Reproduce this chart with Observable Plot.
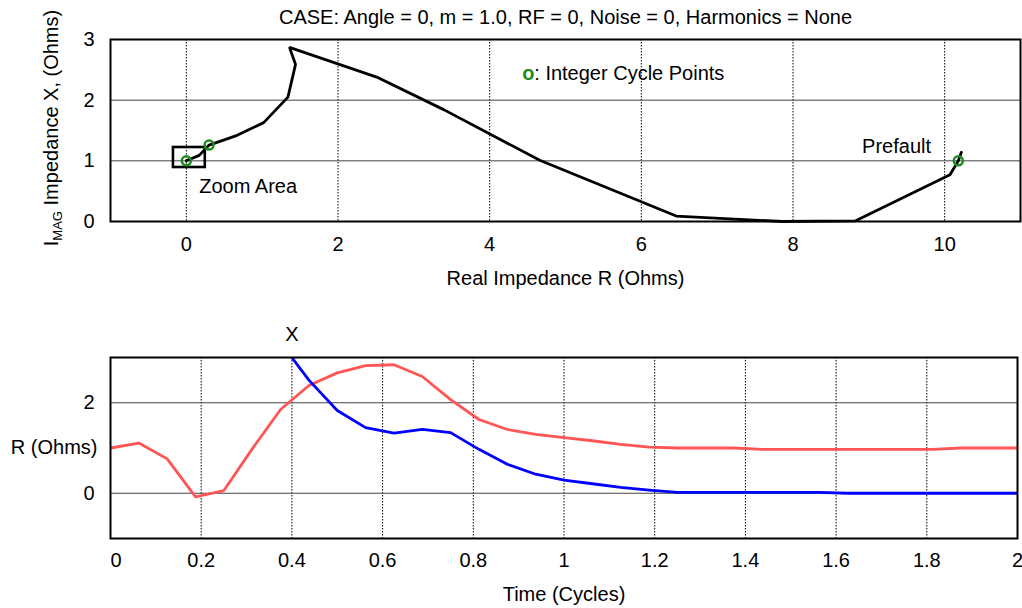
<!DOCTYPE html>
<html>
<head>
<meta charset="utf-8">
<script src="https://cdn.jsdelivr.net/npm/d3@7"></script>
<script src="https://cdn.jsdelivr.net/npm/@observablehq/plot@0.6"></script>
<style>
  html, body { margin: 0; padding: 0; background: #fff; overflow: hidden; }
  #top, #bottom { width: 1022px; }
  svg { display: block; }
</style>
</head>
<body>
<div id="top"></div>
<div id="bottom"></div>
<script>
// ---------- Top chart: impedance trajectory ----------
const titleText = ["CASE: Angle = 0, m = 1.0, RF = 0, Noise = 0, Harmonics = None"];
const trajR = [10.22, 10.18, 10.07, 8.82, 7.86, 6.46, 4.66, 3.40, 2.51, 1.36, 1.44, 1.34, 1.02, 0.67, 0.30, 0.17, 0.00];
const trajX = [1.14, 1.00, 0.77, 0.01, 0.00, 0.09, 1.01, 1.84, 2.38, 2.87, 2.59, 2.05, 1.63, 1.42, 1.26, 1.09, 1.00];
const cycleR = [10.18, 0.30, 0.00];
const cycleX = [1.00, 1.26, 1.00];
const zoomR = [-0.17, 0.25];
const zoomX = [0.89, 1.22];
const rTicks = [0, 2, 4, 6, 8, 10];
const xTicks = [0, 1, 2, 3];
const xGridTop = [1, 2];
const annotations = [
  {r: 0.17, x: 0.57, label: "Zoom Area", anchor: "start"},
  {r: 9.82, x: 1.24, label: "Prefault", anchor: "end"}
];
const legendPos = [{r: 4.43, x: 2.44}];

// ---------- Bottom chart: time series ----------
const tCycles = [0, 0.0625, 0.125, 0.1875, 0.25, 0.3125, 0.375, 0.4375, 0.5, 0.5625, 0.625, 0.6875, 0.75, 0.8125, 0.875, 0.9375,
  1.0, 1.0625, 1.125, 1.1875, 1.25, 1.3125, 1.375, 1.4375, 1.5, 1.5625, 1.625, 1.6875, 1.75, 1.8125, 1.875, 1.9375, 2.0];
const rOhms = [1.00, 1.11, 0.76, -0.08, 0.06, 0.98, 1.85, 2.38, 2.66, 2.82, 2.84, 2.58, 2.07, 1.63, 1.41, 1.30,
  1.23, 1.16, 1.08, 1.02, 1.00, 1.00, 1.00, 0.97, 0.97, 0.97, 0.97, 0.97, 0.97, 0.97, 1.00, 1.00, 1.00];
const xOhms = [null, null, null, null, null, null, 3.33, 2.50, 1.83, 1.45, 1.33, 1.41, 1.34, 0.97, 0.64, 0.42,
  0.29, 0.21, 0.13, 0.07, 0.02, 0.02, 0.02, 0.02, 0.02, 0.02, 0.00, 0.00, 0.00, 0.00, 0.00, 0.00, 0.00];
const tTicks = [0, 0.2, 0.4, 0.6, 0.8, 1, 1.2, 1.4, 1.6, 1.8, 2];
const tGrid = [0.2, 0.4, 0.6, 0.8, 1, 1.2, 1.4, 1.6, 1.8];
const vTicks = [0, 2];
const vGrid = [0, 2];
const seriesLabelX = [{t: 0.4, label: "X"}];

const FONT = "'Liberation Sans', Arial, Helvetica, sans-serif";
const GREEN = "#1e8c1e";

const traj = trajR.map((r, i) => ({r, x: trajX[i]}));
const cycle = cycleR.map((r, i) => ({r, x: cycleX[i]}));
const zoomBox = [{r1: zoomR[0], r2: zoomR[1], x1: zoomX[0], x2: zoomX[1]}];

const topPlot = Plot.plot({
  width: 1022, height: 290,
  marginTop: 39, marginBottom: 69, marginLeft: 110, marginRight: 2,
  style: {fontFamily: FONT, fontSize: "20px", color: "black", background: "white", overflow: "visible"},
  x: {domain: [-1, 11], label: null},
  y: {domain: [0, 3], label: null},
  marks: [
    Plot.ruleX(rTicks, {stroke: "black", strokeWidth: 1, strokeDasharray: "1.5,1.5"}),
    Plot.ruleY(xGridTop, {stroke: "#444", strokeWidth: 1}),
    Plot.line(traj, {x: "r", y: "x", stroke: "black", strokeWidth: 2.8, strokeLinejoin: "miter"}),
    Plot.rect(zoomBox, {x1: "r1", x2: "r2", y1: "x1", y2: "x2", stroke: "black", strokeWidth: 2.6, fill: "none"}),
    Plot.dot(cycle, {x: "r", y: "x", r: 4.5, stroke: GREEN, strokeWidth: 2.5, fill: "none"}),
    Plot.text(annotations, {x: "r", y: "x", text: "label", textAnchor: "start", filter: d => d.anchor === "start"}),
    Plot.text(annotations, {x: "r", y: "x", text: "label", textAnchor: "end", filter: d => d.anchor === "end"}),
    Plot.text(legendPos, {x: "r", y: "x", text: () => "o", fill: GREEN, fontWeight: "bold", textAnchor: "start"}),
    Plot.text(legendPos, {x: "r", y: "x", text: () => ": Integer Cycle Points", textAnchor: "start", dx: 12}),
    Plot.text(titleText, {frameAnchor: "top", dy: -30, text: d => d}),
    Plot.text(["Real Impedance R (Ohms)"], {frameAnchor: "bottom", dy: 63, text: d => d}),
    Plot.axisX(rTicks, {tickSize: 0, tickPadding: 15, label: null, tickFormat: d => String(d)}),
    Plot.axisY(xTicks, {tickSize: 0, tickPadding: 16, label: null, tickFormat: d => String(d)}),
    Plot.frame({stroke: "black", strokeWidth: 2})
  ]
});
document.getElementById("top").appendChild(topPlot);

// Rotated y-axis label with subscript
const ylab = d3.select(topPlot).append("text")
  .attr("transform", "translate(58,128) rotate(-90)")
  .attr("text-anchor", "middle")
  .attr("fill", "black")
  .style("font-family", FONT)
  .style("font-size", "20px");
ylab.append("tspan").text("I");
ylab.append("tspan").attr("dy", 4).style("font-size", "13px").text("MAG");
ylab.append("tspan").attr("dy", -4).text(" Impedance X, (Ohms)");

const series = tCycles.map((t, i) => ({t, r: rOhms[i], x: xOhms[i]}));

const bottomPlot = Plot.plot({
  width: 1022, height: 318,
  marginTop: 67, marginBottom: 70, marginLeft: 110, marginRight: 5,
  style: {fontFamily: FONT, fontSize: "20px", color: "black", background: "white", overflow: "visible"},
  x: {domain: [0, 2], label: null},
  y: {domain: [-1, 3], label: null},
  marks: [
    Plot.ruleX(tGrid, {stroke: "black", strokeWidth: 1, strokeDasharray: "1.5,1.5"}),
    Plot.ruleY(vGrid, {stroke: "#444", strokeWidth: 1}),
    Plot.line(series, {x: "t", y: "r", stroke: "#ff5555", strokeWidth: 2.8, clip: true}),
    Plot.line(series, {x: "t", y: "x", stroke: "#0000ff", strokeWidth: 2.8, clip: true}),
    Plot.text(seriesLabelX, {x: "t", frameAnchor: "top", dy: -31, text: "label"}),
    Plot.text(["R (Ohms)"], {frameAnchor: "left", dx: -13, textAnchor: "end", text: d => d}),
    Plot.text(["Time (Cycles)"], {frameAnchor: "bottom", dy: 62, text: d => d}),
    Plot.axisX(tTicks.slice(0, 1), {tickSize: 0, tickPadding: 14, label: null, textAnchor: "start", tickFormat: d => String(d)}),
    Plot.axisX(tTicks.slice(1), {tickSize: 0, tickPadding: 14, label: null, tickFormat: d => String(d)}),
    Plot.axisY(vTicks, {tickSize: 0, tickPadding: 16, label: null, tickFormat: d => String(d)}),
    Plot.frame({stroke: "black", strokeWidth: 2})
  ]
});
document.getElementById("bottom").appendChild(bottomPlot);
</script>
</body>
</html>
